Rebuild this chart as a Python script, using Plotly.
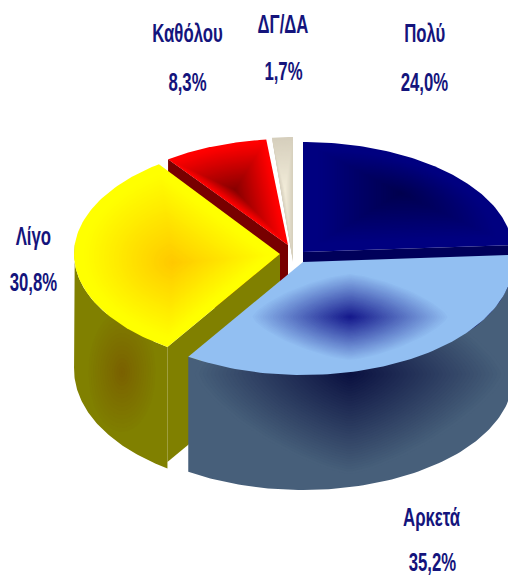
import numpy as np
import plotly.graph_objects as go

categories = ["Πολύ", "Αρκετά", "Λίγο", "Καθόλου", "ΔΓ/ΔΑ"]
values = [24.0, 35.2, 30.8, 8.3, 1.7]
value_labels = ["24,0%", "35,2%", "30,8%", "8,3%", "1,7%"]

# Projection of each exploded slice of the tilted pie (pixel space of the axes)
centers = {"Πολύ": (303, 252), "Αρκετά": (303, 262), "Λίγο": (280, 254), "Καθόλου": (288, 245), "ΔΓ/ΔΑ": (293, 262)}
radii = {"Πολύ": (210, 110), "Αρκετά": (210, 113), "Λίγο": (206, 111), "Καθόλου": (204, 106), "ΔΓ/ΔΑ": (198, 125)}
bottom_ry = {"Αρκετά": 1.0, "Λίγο": 1.07}
DEPTH = 115
label_pos = {"Πολύ": (424, 33, 82), "Αρκετά": (432, 517, 562), "Λίγο": (33, 236, 282),
             "Καθόλου": (187, 33, 82), "ΔΓ/ΔΑ": (283, 24, 71)}
top_style = {
    "Πολύ": ((400, 193), "#00004e", "#000080", 0.85),
    "Λίγο": ((173, 263), "#ffc800", "#ffff00", 0.9),
    "Καθόλου": ((235, 190), "#860000", "#ff0000", 0.95),
    "ΔΓ/ΔΑ": ((285, 190), "#f3edda", "#d6cfbd", 1.0),
}
LIGHT_TOP = "#92bff2"
LIGHT_WALL = "#475f7a"
OLIVE = "#808000"
face_color = {"Πολύ": "#00005a", "Αρκετά": LIGHT_WALL, "Λίγο": OLIVE, "Καθόλου": "#780000", "ΔΓ/ΔΑ": "#b5ae9c"}
# blob: centre, half-width, half-height, superellipse exponent, inner colour, outer colour
blobs = {
    "top": ((350, 317), 100, 44, 1.4, "#13168a", LIGHT_TOP),
    "wall": ((350, 374), 155, 100, 1.35, "#0a1040", LIGHT_WALL),
    "olive": ((122, 372), 36, 64, 2.0, "#7a6000", OLIVE),
}
TEXT = "#14147c"


def hex_rgb(c):
    return np.array([int(c[i:i + 2], 16) for i in (1, 3, 5)], float)


def lerp(a, b, t):
    v = hex_rgb(a) * (1 - t) + hex_rgb(b) * t
    return "rgb(%d,%d,%d)" % tuple(v)


fig = go.Figure()


def poly(x, y, color):
    fig.add_trace(go.Scatter(x=list(x), y=list(y), mode="lines", fill="toself", fillcolor=color,
                             line=dict(width=0, color=color), hoverinfo="skip", showlegend=False))


def path_gradient(x, y, style, n=40):
    (fx, fy), inner, outer, reach = style
    x, y = np.asarray(x), np.asarray(y)
    for s in np.linspace(1, 0.02, n):
        t = min(1.0, s / reach)
        poly(fx + (x - fx) * s, fy + (y - fy) * s, lerp(inner, outer, t))


def blob(spec, n=40):
    (fx, fy), rx, ry, p, inner, outer = spec
    th = np.linspace(0, 2 * np.pi, 120)
    ux = np.sign(np.cos(th)) * np.abs(np.cos(th)) ** (2 / p)
    uy = np.sign(np.sin(th)) * np.abs(np.sin(th)) ** (2 / p)
    for s in np.linspace(1, 0.02, n):
        poly(fx + rx * s * ux, fy + ry * s * uy, lerp(inner, outer, s))


cum = np.cumsum([0] + values)
angles = {c: (cum[i] * 3.6, cum[i + 1] * 3.6) for i, c in enumerate(categories)}


def arc(cat, a0=None, a1=None, dy=0, kry=1.0):
    a, b = angles[cat]
    a = a if a0 is None else a0
    b = b if a1 is None else a1
    th = np.radians(np.linspace(a, b, 90))
    (cx, cy), (rx, ry) = centers[cat], radii[cat]
    return cx + rx * np.sin(th), cy - ry * kry * np.cos(th) + dy


def draw_face(cat, theta):
    (cx, cy) = centers[cat]
    x, y = arc(cat, theta, theta)
    px, py = x[0], y[0]
    poly([cx, px, px, cx], [cy, py, py + DEPTH, cy + DEPTH], face_color[cat])


def draw_wall(cat, a0, a1):
    x, y = arc(cat, a0, a1)
    bx, by = arc(cat, a0, a1, DEPTH, bottom_ry.get(cat, 1.0))
    poly(np.r_[x, bx[::-1]], np.r_[y, by[::-1]], face_color[cat])


def draw_top(cat):
    x, y = arc(cat)
    cx, cy = centers[cat]
    px = np.r_[cx, x]
    py = np.r_[cy, y]
    if cat in top_style:
        path_gradient(px, py, top_style[cat])
    else:
        poly(px, py, LIGHT_TOP)


# back to front
draw_top("ΔΓ/ΔΑ")
draw_face("Καθόλου", angles["Καθόλου"][0])
draw_top("Καθόλου")
draw_face("Πολύ", angles["Πολύ"][1])
draw_top("Πολύ")
draw_face("Λίγο", angles["Λίγο"][0])
draw_wall("Λίγο", angles["Λίγο"][0], 275)
blob(blobs["olive"], 16)
draw_top("Λίγο")
draw_wall("Αρκετά", 90, angles["Αρκετά"][1])
blob(blobs["wall"])
draw_top("Αρκετά")
blob(blobs["top"])

for cat, lab in zip(categories, value_labels):
    x, y1, y2 = label_pos[cat]
    for yy, txt in ((y1, cat), (y2, lab)):
        fig.add_annotation(x=x, y=yy, text=txt, showarrow=False, xanchor="center", yanchor="middle",
                           font=dict(family="Liberation Sans", size=25, color=TEXT, weight="bold"))

fig.update_layout(
    width=508, height=578, margin=dict(l=0, r=0, t=0, b=0),
    paper_bgcolor="white", plot_bgcolor="white", showlegend=False,
    xaxis=dict(range=[0, 508], visible=False, fixedrange=True),
    yaxis=dict(range=[578, 0], visible=False, fixedrange=True),
)
squeeze = """
document.body.style.margin='0';document.documentElement.style.overflow='hidden';
function narrow(){document.querySelectorAll('.annotation-text').forEach(function(t){
  if(t.getAttribute('textLength'))return;
  t.setAttribute('lengthAdjust','spacingAndGlyphs');
  t.setAttribute('textLength',(t.getComputedTextLength()*0.67).toFixed(1));
});}
narrow();requestAnimationFrame(narrow);
"""
fig.write_html("out.html", config={"displayModeBar": False}, post_script=squeeze)
